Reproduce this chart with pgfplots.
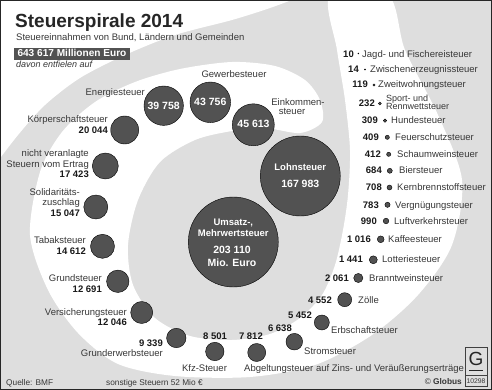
\documentclass[border=0pt]{standalone}
\usepackage{pgfplots}
\pgfplotsset{compat=1.18}
\usepackage{fontspec}
\setmainfont{Liberation Sans}
\definecolor{bub}{RGB}{82,82,82}
\definecolor{bg}{RGB}{222,222,222}
\definecolor{txt}{RGB}{55,55,55}
\definecolor{num}{RGB}{25,25,25}
\newcommand{\fs}{\fontsize{9.5}{11}\selectfont}
\newcommand{\lE}[3]{\node[anchor=base east,font=\fs,text=txt,inner sep=0pt] at (axis cs:#1,#2) {#3};}
\newcommand{\lW}[3]{\node[anchor=base west,font=\fs,text=txt,inner sep=0pt] at (axis cs:#1,#2) {#3};}
\newcommand{\lC}[3]{\node[anchor=base,font=\fs,text=txt,inner sep=0pt] at (axis cs:#1,#2) {#3};}
\newcommand{\nE}[3]{\node[anchor=base east,font=\fs\bfseries,text=num,inner sep=0pt] at (axis cs:#1,#2) {#3};}
\newcommand{\nC}[3]{\node[anchor=base,font=\fs\bfseries,text=num,inner sep=0pt] at (axis cs:#1,#2) {#3};}
\newcommand{\bT}[3]{\node[anchor=base,font=\bfseries\fontsize{#3}{12}\selectfont,text=white,inner sep=0pt] at (#1) {#2};}
\pgfplotstableread{
x y r v
163.7 105.7 19.7 39758
210.3 102.3 20.3 43756
253.3 124.8 21.0 45613
300.3 176.0 40.0 167983
233.3 242.0 45.0 203110
124.7 130.0 14.0 20044
105.3 166.0 13.0 17423
95.8 207.0 12.0 15047
102.5 246.3 12.0 14612
117.8 281.3 11.2 12691
141.7 312.5 11.0 12046
176.3 338.0 9.7 9339
214.8 351.5 9.2 8501
256.7 352.5 9.0 7812
294.3 341.7 8.3 6638
321.8 322.5 7.5 5452
344.7 299.7 7.0 4552
358.3 278.0 4.6 2061
373.3 259.8 4.0 1441
380.7 239.3 3.4 1016
386.0 221.0 2.8 990
387.5 204.8 2.6 783
389.5 187.5 2.5 708
389.8 170.8 2.5 684
388.7 154.3 2.1 412
387.3 137.3 2.1 409
385.0 120.7 1.7 309
379.8 103.5 1.5 232
374.0 85.0 1.2 119
365.0 69.5 0.6 14
358.3 53.5 0.5 10
}\bubbles
\begin{document}
\begin{tikzpicture}
\begin{axis}[width=492pt,height=390pt,scale only axis,xmin=0,xmax=492,ymin=0,ymax=390,
  y dir=reverse,hide axis,clip=false]
\coordinate (TL) at (axis cs:0,0);
\coordinate (BR) at (axis cs:492,390);
\coordinate (c1) at (axis cs:163.7,109.5);
\coordinate (c2) at (axis cs:210.3,106.0);
\coordinate (c3) at (axis cs:253.5,128.0);
\coordinate (c4) at (axis cs:300.3,170.1);
\coordinate (c5) at (axis cs:300.3,187.4);
\coordinate (c6) at (axis cs:233.3,225.7);
\coordinate (c7) at (axis cs:233.3,236.7);
\coordinate (c8) at (axis cs:232,253.7);
\coordinate (c9) at (axis cs:232,267);
% background spiral (decoration)
\fill[bg] (axis cs:0,0) rectangle (axis cs:492,390);
\begin{scope}
\clip (axis cs:0,0) rectangle (axis cs:492,390);
\fill[white] plot[smooth cycle, tension=0.5] coordinates {
 (388,-5) (405,50) (438,115) (462,180) (452,245) (418,295) (372,335) (315,365) (250,377)
 (175,376) (118,364) (78,333) (48,290) (30,235) (40,172) (62,132) (95,102) (135,82)
 (180,69) (232,62) (275,66) (305,80) (320,100) (322,122)
 (300,133) (265,128) (232,131) (195,140) (160,162) (138,200) (128,245) (133,285)
 (155,318) (190,336) (232,340) (270,334) (300,318) (322,295) (335,265) (343,230)
 (348,195) (350,150) (345,100) (337,50) (330,-5)};
\fill[white] plot[smooth, tension=0.5] coordinates {
 (305,-5) (270,8) (232,20) (175,35) (125,55) (80,78) (45,105) (18,135) (-5,165)}
 -- (-5,-5) -- cycle;
\end{scope}
% bubbles
\addplot[scatter, only marks, mark=*, point meta=0,
  scatter/use mapped color={draw=none,fill=bub},
  visualization depends on={\thisrow{r}\as\rr},
  scatter/@pre marker code/.append style={/tikz/mark size=\rr}]
  table[x=x,y=y] {\bubbles};
% titles
\node[anchor=base west,inner sep=0pt,font=\bfseries\fontsize{19}{22}\selectfont,text=black!85] at (axis cs:15,27.3) {Steuerspirale 2014};
\node[anchor=base west,inner sep=0pt,font=\fs,text=txt] at (axis cs:16,41) {Steuereinnahmen von Bund, Ländern und Gemeinden};
\fill[bub] (axis cs:14,48) rectangle (axis cs:130,59.7);
\node[anchor=base west,inner sep=0pt,font=\bfseries\fontsize{10.1}{12}\selectfont,text=white] at (axis cs:17.3,56.7) {643 617 Millionen Euro};
\node[anchor=base west,inner sep=0pt,font=\itshape\fontsize{9}{11}\selectfont,text=txt] at (axis cs:16,67.3) {davon entfielen auf};
% left labels
\lE{145}{95.4}{Energiesteuer}
\lC{234}{77.4}{Gewerbesteuer}
\lC{298}{105.4}{Einkommen-}
\lC{292}{114.4}{steuer}
\lE{108}{122.4}{Körperschaftsteuer}
\nE{108}{133.4}{20 044}
\lE{89}{156.4}{nicht veranlagte}
\lE{89}{167.4}{Steuern vom Ertrag}
\nE{89}{177.4}{17 423}
\lE{80}{195.4}{Solidaritäts-}
\lE{80}{205.4}{zuschlag}
\nE{80}{216.4}{15 047}
\lE{86}{243.4}{Tabaksteuer}
\nE{86}{254.4}{14 612}
\lE{102}{281.4}{Grundsteuer}
\nE{102}{292.4}{12 691}
\lE{127}{315.4}{Versicherungsteuer}
\nE{127}{325.4}{12 046}
\nE{163}{346.4}{9 339}
\lE{163}{356.4}{Grunderwerbsteuer}
\nC{215}{339.4}{8 501}
\lC{204.5}{371.4}{Kfz-Steuer}
\nE{263}{339.4}{7 812}
\lW{244}{371.4}{Abgeltungsteuer auf Zins- und Veräußerungserträge}
\nE{292}{331.4}{6 638}
\lW{304}{354.4}{Stromsteuer}
\nE{312}{318.4}{5 452}
\lW{331}{333.4}{Erbschaftsteuer}
\nE{332}{303.4}{4 552}
\lW{358}{303.4}{Zölle}
\nE{349}{281.4}{2 061}
\lW{369}{281.4}{Branntweinsteuer}
\nE{363}{262.7}{1 441}
\lW{382}{262.7}{Lotteriesteuer}
\nE{371}{242.7}{1 016}
\lW{388}{242.7}{Kaffeesteuer}
\nE{377}{224}{990}
\lW{394}{224}{Luftverkehrsteuer}
\nE{379}{208}{783}
\lW{395}{208}{Vergnügungsteuer}
\nE{382}{190.7}{708}
\lW{397}{190.7}{Kernbrennstoffsteuer}
\nE{382}{174}{684}
\lW{399}{174}{Biersteuer}
\nE{381}{157.7}{412}
\lW{397}{157.7}{Schaumweinsteuer}
\nE{379}{140.7}{409}
\lW{395}{140.7}{Feuerschutzsteuer}
\nE{378}{124}{309}
\lW{391}{124}{Hundesteuer}
\nE{375}{106.7}{232}
\node[anchor=base west,font=\fontsize{9}{11}\selectfont,text=txt,inner sep=0pt] at (axis cs:386,102) {Sport- und};
\node[anchor=base west,font=\fontsize{9}{11}\selectfont,text=txt,inner sep=0pt] at (axis cs:386,110) {Rennwettsteuer};
\nE{368}{88}{119}
\lW{378}{88}{Zweitwohnungsteuer}
\nE{359}{73}{14}
\lW{370}{73}{Zwischenerzeugnissteuer}
\nE{354}{57.7}{10}
\lW{362}{57.7}{Jagd- und Fischereisteuer}
% footer
\node[anchor=base west,inner sep=0pt,font=\fontsize{8.3}{10}\selectfont,text=txt] at (axis cs:6,385) {Quelle: BMF};
\node[anchor=base west,inner sep=0pt,font=\fontsize{8.3}{10}\selectfont,text=txt] at (axis cs:106,385) {sonstige Steuern 52 Mio €};
\node[anchor=base east,inner sep=0pt,font=\fontsize{8.3}{10}\selectfont,text=txt] at (axis cs:462,384.5) {© \textbf{Globus}};
\draw[black!75,line width=0.6pt] (axis cs:465,347) rectangle (axis cs:487,375.5);
\draw[black!75,line width=0.6pt] (axis cs:465,375.5) rectangle (axis cs:487,386.5);
\node[inner sep=0pt,font=\fontsize{6.8}{8}\selectfont,text=txt] at (axis cs:476,381.3) {10298};
\node[inner sep=0pt,font=\fontsize{19}{20}\selectfont,text=black!85] at (axis cs:476,358.5) {G};
\draw[black!85,line width=1.2pt] (axis cs:469,370.5) -- (axis cs:483,370.5);
\draw[black!85,line width=1.2pt] (axis cs:0.6,0.6) rectangle (axis cs:491.4,389.4);
\end{axis}
% texts inside the bubbles, on top of the marks
\bT{c1}{39 758}{10.5}
\bT{c2}{43 756}{10.5}
\bT{c3}{45 613}{10.5}
\bT{c4}{Lohnsteuer}{9.5}
\bT{c5}{167 983}{10.5}
\bT{c6}{Umsatz-,}{9.5}
\bT{c7}{Mehrwertsteuer}{9.5}
\bT{c8}{203 110}{10.5}
\bT{c9}{Mio. Euro}{10.5}
\pgfresetboundingbox
\path (TL) rectangle (BR);
\end{tikzpicture}
\end{document}
